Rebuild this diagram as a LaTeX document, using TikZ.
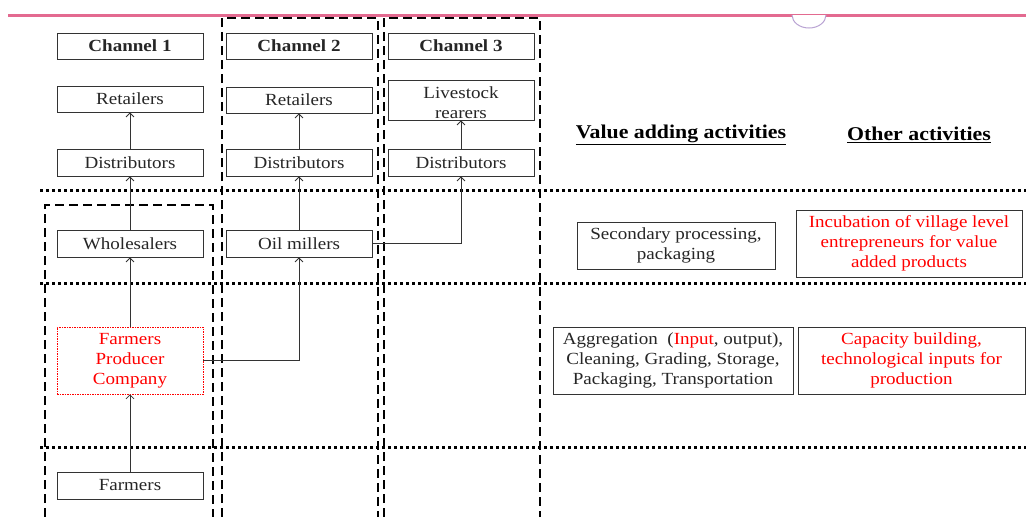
\documentclass[tikz,border=0pt]{standalone}
\usepackage{fontspec}
\setmainfont{Liberation Serif}[FakeStretch=1.12]
\usetikzlibrary{arrows.meta}
\definecolor{boxgray}{HTML}{333333}
\definecolor{pinkline}{HTML}{E36A90}
\definecolor{bumpcol}{HTML}{B9A3D3}
\definecolor{txtred}{HTML}{FF0000}
\begin{document}
\begin{tikzpicture}[x=1pt,y=-1pt,
  box/.style={draw=boxgray,line width=0.8pt,inner sep=0pt,align=center,text=black!85,font=\fontsize{17}{20}\selectfont},
  cbox/.style={box,minimum width=146pt,minimum height=27pt},
  redbox/.style={draw=txtred,line width=0.6pt,dash pattern=on 1.5pt off 1pt,inner sep=0pt,align=center,text=txtred,font=\fontsize{17}{20}\selectfont},
  arr/.style={draw=boxgray,line width=0.8pt,-{Straight Barb[length=4pt,width=8pt]}},
  chdash/.style={line width=2.4pt,dash pattern=on 9pt off 5pt},
  rowdot/.style={line width=3pt,dash pattern=on 3pt off 3pt},
  head/.style={font=\fontsize{19.5}{22}\selectfont\bfseries,inner sep=0pt}]
\useasboundingbox (0,0) rectangle (1026,517);
\fill[white] (0,0) rectangle (1026,517);
% top decoration
\draw[pinkline,line width=3pt] (8,15) -- (1026,15);
\filldraw[draw=bumpcol,fill=white,line width=1pt] (792,15) arc[start angle=180,end angle=0,x radius=17,y radius=13];
% channel dashed boxes
\draw[chdash] (222,517) -- (222,18) -- (378,18) -- (378,517);
\draw[chdash] (384,517) -- (384,18) -- (540,18) -- (540,517);
\draw[chdash] (45,517) -- (45,205) -- (213,205) -- (213,517);
% dotted row separators
\draw[rowdot] (40,190) -- (1026,190);
\draw[rowdot] (40,283) -- (1026,283);
\draw[rowdot] (40,447) -- (1026,447);
% channel headers
\node[cbox,minimum height=26pt] (ch1) at (130,46) {\textbf{Channel 1}};
\node[cbox,minimum height=26pt] (ch2) at (299,46) {\textbf{Channel 2}};
\node[cbox,minimum height=26pt] (ch3) at (461,46) {\textbf{Channel 3}};
% channel 1
\node[cbox,minimum height=26pt] (ret1) at (130,99) {Retailers};
\node[cbox] (dist1) at (130,162.5) {Distributors};
\node[cbox] (whole) at (130,243.5) {Wholesalers};
\node[redbox,minimum width=146pt,minimum height=67pt] (fpc) at (130,360.5) {Farmers\\Producer\\Company};
\node[cbox] (farm) at (130,485.5) {Farmers};
% channel 2
\node[cbox,minimum height=26pt] (ret2) at (299,100) {Retailers};
\node[cbox] (dist2) at (299,162.5) {Distributors};
\node[cbox] (oil) at (299,243.5) {Oil millers};
% channel 3
\node[cbox,minimum height=40pt] (live) at (461,100) {};
\node[box,draw=none,align=center] (livetxt) at (461,103) {Livestock\\rearers};
\node[cbox] (dist3) at (461,162.5) {Distributors};
% connectors
\draw[arr] (farm) -- (fpc);
\draw[arr] (fpc) -- (whole);
\draw[arr] (whole) -- (dist1);
\draw[arr] (dist1) -- (ret1);
\draw[arr] (fpc.east) -| (oil.south);
\draw[arr] (oil) -- (dist2);
\draw[arr] (dist2) -- (ret2);
\draw[arr] (oil.east) -| (dist3.south);
\draw[arr] (dist3) -- (live);
% right side
\node[head] (hva) at (681,135) {\underline{Value adding activities}};
\node[head] (hoa) at (919,135) {\underline{Other activities}};
\node[box,minimum width=198pt,minimum height=47pt] (sec) at (676,245.5) {Secondary processing,\\packaging};
\node[box,text=txtred,minimum width=226pt,minimum height=67pt] (inc) at (909,243.5) {Incubation of village level\\entrepreneurs for value\\added products};
\node[box,minimum width=240pt,minimum height=67pt] (agg) at (673,360.5) {Aggregation\ \ (\textcolor{txtred}{Input}, output),\\Cleaning, Grading, Storage,\\Packaging, Transportation};
\node[box,text=txtred,minimum width=227pt,minimum height=67pt] (cap) at (911.5,360.5) {Capacity building,\\technological inputs for\\production};
\end{tikzpicture}
\end{document}
